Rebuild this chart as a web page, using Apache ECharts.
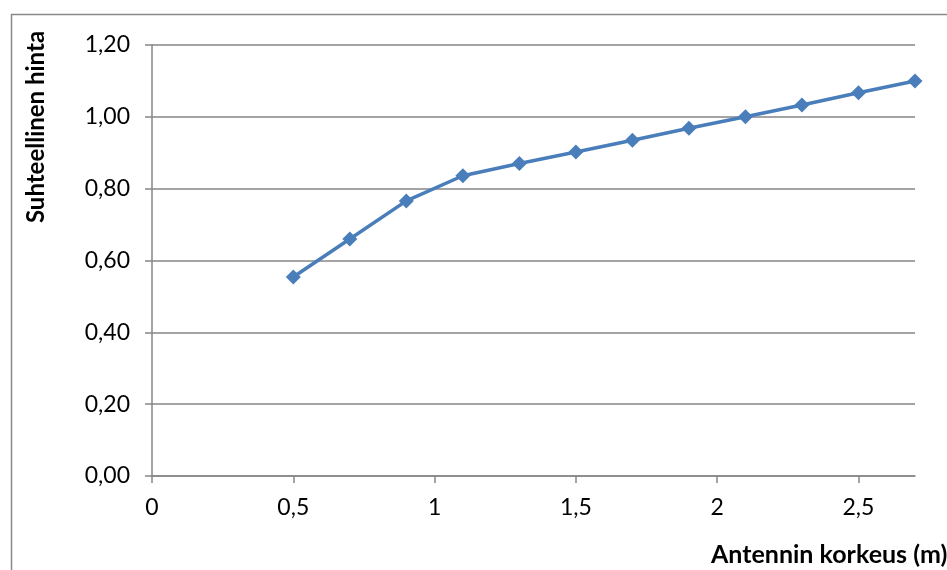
<!DOCTYPE html>
<html lang="fi">
<head>
    <meta charset="UTF-8">
    <title>Suhteellinen hinta</title>
    <script src="https://cdn.jsdelivr.net/npm/echarts@6/dist/echarts.min.js"></script>
    <style>
        html, body { margin: 0; padding: 0; background: #fff; }
        #chart { width: 947px; height: 570px; }
    </style>
</head>
<body>
<div id="chart"></div>
<script type="text/javascript">
    // antennin korkeus (m) ja suhteellinen hinta
    var korkeus = [0.5, 0.7, 0.9, 1.1, 1.3, 1.5, 1.7, 1.9, 2.1, 2.3, 2.5, 2.7];
    var hinta = [0.554, 0.660, 0.766, 0.836, 0.870, 0.902, 0.935, 0.968, 1.000, 1.033, 1.067, 1.100];

    var xName = 'Antennin korkeus (m)';
    var yName = 'Suhteellinen hinta';

    var points = korkeus.map(function (x, i) { return [x, hinta[i]]; });

    var gray = '#868686';
    var font = 'Lato, "Open Sans", sans-serif';

    var chart = echarts.init(document.getElementById('chart'));
    chart.setOption({
        animation: false,
        grid: { left: 152, top: 45, right: 32, bottom: 94 },
        xAxis: {
            type: 'value',
            min: 0,
            max: 2.7,
            interval: 0.5,
            axisLine: { lineStyle: { color: gray, width: 1.5 } },
            axisTick: { show: true, length: 7, lineStyle: { color: gray, width: 1.5 } },
            splitLine: { show: false },
            axisLabel: {
                showMaxLabel: false,
                margin: 20,
                color: '#000',
                fontSize: 23,
                fontFamily: font,
                formatter: function (v) { return String(v).replace('.', ','); }
            }
        },
        yAxis: {
            type: 'value',
            min: 0,
            max: 1.2,
            interval: 0.2,
            axisLine: { show: true, lineStyle: { color: gray, width: 1.5 } },
            axisTick: { show: true, length: 7, lineStyle: { color: gray, width: 1.5 } },
            splitLine: { lineStyle: { color: gray, width: 1.5 } },
            axisLabel: {
                margin: 22,
                color: '#000',
                fontSize: 23,
                fontFamily: font,
                formatter: function (v) { return v.toFixed(2).replace('.', ','); }
            }
        },
        graphic: [
            {
                type: 'rect',
                shape: { x: 11.5, y: 14.5, width: 1000, height: 700 },
                style: { fill: 'none', stroke: '#898989', lineWidth: 1.5 },
                silent: true
            },
            {
                type: 'text',
                x: 36,
                y: 127,
                rotation: Math.PI / 2,
                style: {
                    text: yName,
                    fill: '#000',
                    font: 'bold 24px ' + font,
                    textAlign: 'center',
                    textVerticalAlign: 'middle'
                }
            },
            {
                type: 'text',
                x: 711,
                y: 555,
                style: {
                    text: xName,
                    fill: '#000',
                    font: 'bold 25px ' + font,
                    textAlign: 'left',
                    textVerticalAlign: 'middle'
                }
            }
        ],
        series: [{
            type: 'line',
            data: points,
            symbol: 'diamond',
            symbolSize: 15,
            lineStyle: { color: '#4a7ebb', width: 3.5 },
            itemStyle: { color: '#4a7ebb' }
        }]
    });
</script>
</body>
</html>
